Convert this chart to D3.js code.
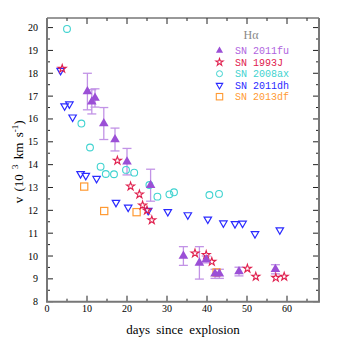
<!DOCTYPE html>
<meta charset="utf-8">
<script src="https://d3js.org/d3.v7.min.js"></script>
<style>
body { margin: 0; background: #fff; }
text { font-family: "Liberation Serif", "DejaVu Serif", serif; }
.leg text { font-family: "Liberation Mono", monospace; }
</style>
<body>
<div id="canvas"></div>
<script>

// SN 2011fu (filled triangles, with error bars)
var fuDays = [10.1, 11.2, 12.0, 14.2, 17.0, 20.0, 25.9, 34.1, 38.1, 39.8, 42.0, 43.1, 48.0, 57.1];
var fuVel  = [17.2, 16.75, 16.92, 15.8, 15.1, 14.13, 13.1, 10.0, 9.7, 9.85, 9.22, 9.22, 9.32, 9.42];
var fuErr  = [0.8, 0.53, 0.4, 0.7, 0.5, 0.58, 0.7, 0.41, 0.71, 0.15, 0.2, 0.2, 0.19, 0.2];

// SN 1993J (stars)
var jDays = [3.8, 17.6, 20.9, 23.1, 23.9, 25.0, 26.2, 37.0, 39.8, 41.2, 50.1, 52.2, 57.2, 59.3];
var jVel  = [18.2, 14.18, 13.05, 12.7, 12.22, 12.0, 11.57, 10.12, 10.05, 9.75, 9.45, 9.1, 9.05, 9.1];

// SN 2008ax (circles)
var axDays = [5.0, 8.6, 10.75, 13.4, 14.7, 16.75, 19.75, 21.8, 25.6, 27.6, 30.6, 31.75, 40.6, 43.0];
var axVel  = [19.94, 15.8, 14.75, 13.91, 13.59, 13.58, 13.77, 13.65, 13.11, 12.6, 12.7, 12.79, 12.67, 12.72];

// SN 2011dh (down triangles)
var dhDays = [3.4, 4.4, 5.6, 6.4, 8.4, 9.7, 12.4, 17.25, 20.3, 25.3, 30.2, 35.2, 40.2, 44.1, 47.0, 48.9, 52.0, 58.2];
var dhVel  = [18.12, 16.57, 16.65, 16.08, 13.6, 13.52, 13.39, 12.34, 12.13, 11.99, 11.94, 11.8, 11.61, 11.44, 11.41, 11.43, 10.97, 11.14];

// SN 2013df (squares)
var dfDays = [9.3, 14.3, 22.4, 42.4];
var dfVel  = [13.04, 11.97, 11.92, 9.28];

var names  = ["SN 2011fu", "SN 1993J", "SN 2008ax", "SN 2011dh", "SN 2013df"];
var xTicks = [0, 10, 20, 30, 40, 50, 60];
var yTicks = [8, 9, 10, 11, 12, 13, 14, 15, 16, 17, 18, 19, 20];

var width = 338, height = 338;
var margin = {top: 18, right: 19, bottom: 36.3, left: 47};

var svg = d3.select("#canvas").append("svg")
    .attr("width", width)
    .attr("height", height);

var x = d3.scaleLinear().domain([0, 68]).range([margin.left, width - margin.right]);
var y = d3.scaleLinear().domain([8, 20.42]).range([height - margin.bottom, margin.top]);

var x0 = margin.left, x1 = width - margin.right, y0 = height - margin.bottom, y1 = margin.top;

// ticks on all 4 sides, pointing inwards
var xMinor = d3.range(5, 68, 10), yMinor = d3.range(8.5, 20.42, 1);
var tk = svg.append("g").attr("stroke", "#222").attr("stroke-width", 1);
function vt(list, len) {
  list.forEach(function(v) {
    tk.append("line").attr("x1", x(v)).attr("x2", x(v)).attr("y1", y0).attr("y2", y0 - len);
    tk.append("line").attr("x1", x(v)).attr("x2", x(v)).attr("y1", y1).attr("y2", y1 + len);
  });
}
function ht(list, len) {
  list.forEach(function(v) {
    tk.append("line").attr("y1", y(v)).attr("y2", y(v)).attr("x1", x0).attr("x2", x0 + len);
    tk.append("line").attr("y1", y(v)).attr("y2", y(v)).attr("x1", x1).attr("x2", x1 - len);
  });
}
vt(xTicks, 6); vt(xMinor, 3);
ht(yTicks, 6); ht(yMinor, 3);

// frame
svg.append("line").attr("x1", x0).attr("x2", x1).attr("y1", y1).attr("y2", y1).attr("stroke", "#333").attr("stroke-width", 1);
svg.append("path")
  .attr("d", "M" + x0 + "," + y1 + "V" + y0 + "H" + x1 + "V" + y1)
  .attr("fill", "none").attr("stroke", "#777").attr("stroke-width", 2);

// tick labels
svg.append("g").selectAll("text").data(xTicks).enter().append("text")
  .attr("x", function(d) { return x(d); })
  .attr("y", y0 + 10.5)
  .attr("text-anchor", "middle")
  .attr("font-size", 10)
  .text(function(d) { return d; });
svg.append("g").selectAll("text").data(yTicks).enter().append("text")
  .attr("x", x0 - 9)
  .attr("y", function(d) { return y(d) + 3.5; })
  .attr("text-anchor", "end")
  .attr("font-size", 10)
  .text(function(d) { return d; });

// axis titles
svg.append("text")
  .attr("x", (x0 + x1) / 2).attr("y", 334)
  .attr("text-anchor", "middle")
  .attr("font-size", 13)
  .attr("word-spacing", 3)
  .text("days since explosion");

var yl = svg.append("text")
  .attr("transform", "translate(23," + ((y0 + y1) / 2 + 2) + ") rotate(-90)")
  .attr("text-anchor", "middle")
  .attr("font-size", 13)
  .attr("word-spacing", 2);
yl.append("tspan").text("v (10 ");
yl.append("tspan").attr("font-size", 9).attr("dy", -5).text("3");
yl.append("tspan").attr("dy", 5).text(" km s");
yl.append("tspan").attr("font-size", 9).attr("dy", -5).text("-1");
yl.append("tspan").attr("dy", 5).text(")");

var colFu = "#9b4fd6", colFuErr = "#c293e6", colJ = "#e0204e", colAx = "#3fd3d0", colDh = "#2a2aff", colDf = "#ff9a33";

// 2011fu error bars
var eb = svg.append("g").attr("stroke", colFuErr).attr("stroke-width", 1.3);
fuDays.forEach(function(d, i) {
  var cx = x(d), top = y(fuVel[i] + fuErr[i]), bot = y(fuVel[i] - fuErr[i]);
  eb.append("line").attr("x1", cx).attr("x2", cx).attr("y1", top).attr("y2", bot);
  eb.append("line").attr("x1", cx - 4.5).attr("x2", cx + 4.5).attr("y1", top).attr("y2", top);
  eb.append("line").attr("x1", cx - 4.5).attr("x2", cx + 4.5).attr("y1", bot).attr("y2", bot);
});

function pts(days, vel) { return days.map(function(d, i) { return [d, vel[i]]; }); }

// 2013df squares
svg.append("g").selectAll("rect").data(pts(dfDays, dfVel)).enter().append("rect")
  .attr("x", function(d) { return x(d[0]) - 3.6; })
  .attr("y", function(d) { return y(d[1]) - 3.6; })
  .attr("width", 7.2).attr("height", 7.2)
  .attr("fill", "none").attr("stroke", colDf).attr("stroke-width", 1.2);

// 2008ax circles
svg.append("g").selectAll("circle").data(pts(axDays, axVel)).enter().append("circle")
  .attr("cx", function(d) { return x(d[0]); })
  .attr("cy", function(d) { return y(d[1]); })
  .attr("r", 3.4)
  .attr("fill", "none").attr("stroke", colAx).attr("stroke-width", 1.1);

// 2011dh down triangles
var tri = d3.symbol().type(d3.symbolTriangle).size(24);
svg.append("g").selectAll("path").data(pts(dhDays, dhVel)).enter().append("path")
  .attr("d", tri)
  .attr("transform", function(d) { return "translate(" + x(d[0]) + "," + y(d[1]) + ") rotate(180)"; })
  .attr("fill", "none").attr("stroke", colDh).attr("stroke-width", 1.2);

// 1993J stars
var star = d3.symbol().type(d3.symbolStar).size(20);
svg.append("g").selectAll("path").data(pts(jDays, jVel)).enter().append("path")
  .attr("d", star)
  .attr("transform", function(d) { return "translate(" + x(d[0]) + "," + y(d[1]) + ")"; })
  .attr("fill", "none").attr("stroke", colJ).attr("stroke-width", 1.1);

// 2011fu filled triangles
var triF = d3.symbol().type(d3.symbolTriangle).size(40);
svg.append("g").selectAll("path").data(pts(fuDays, fuVel)).enter().append("path")
  .attr("d", triF)
  .attr("transform", function(d) { return "translate(" + x(d[0]) + "," + y(d[1]) + ")"; })
  .attr("fill", colFu);

// legend
var leg = svg.append("g").attr("class", "leg");
svg.append("text").attr("x", 251).attr("y", 39).attr("text-anchor", "middle")
  .attr("font-size", 12).attr("fill", "#888").text("Hα");
var legCols = ["#b064e0", colJ, colAx, colDh, colDf];
names.forEach(function(n, i) {
  var ly = 50.7 + i * 11.5;
  leg.append("text").attr("x", 235).attr("y", ly + 3.5).attr("font-size", 10)
    .attr("fill", legCols[i]).text(n);
  var g = leg.append("g").attr("transform", "translate(219.5," + ly + ")");
  if (i == 0) g.append("path").attr("d", d3.symbol().type(d3.symbolTriangle).size(22)).attr("fill", colFu);
  if (i == 1) g.append("path").attr("d", d3.symbol().type(d3.symbolStar).size(16)).attr("fill", "none").attr("stroke", colJ).attr("stroke-width", 1.1);
  if (i == 2) g.append("circle").attr("r", 3).attr("fill", "none").attr("stroke", colAx).attr("stroke-width", 1);
  if (i == 3) g.append("path").attr("d", d3.symbol().type(d3.symbolTriangle).size(18)).attr("transform", "rotate(180)").attr("fill", "none").attr("stroke", colDh).attr("stroke-width", 1.1);
  if (i == 4) g.append("rect").attr("x", -3.2).attr("y", -3.2).attr("width", 6.4).attr("height", 6.4).attr("fill", "none").attr("stroke", colDf).attr("stroke-width", 1.1);
});

</script>
</body>
